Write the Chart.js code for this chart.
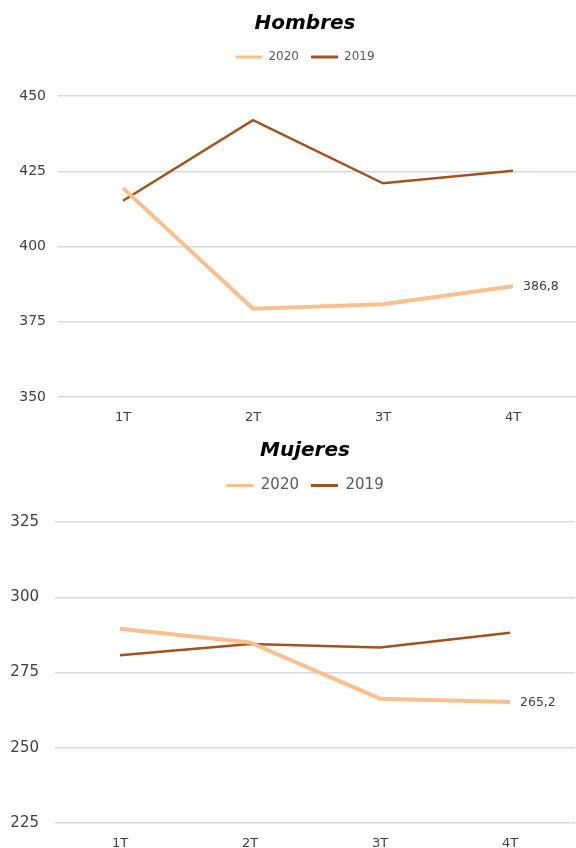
<!DOCTYPE html>
<html>
<head>
<meta charset="utf-8">
<script src="https://cdn.jsdelivr.net/npm/chart.js@4"></script>
<style>
  html, body { margin: 0; padding: 0; background: #fff; overflow: hidden; }
  .box { position: relative; width: 610px; }
  #top-box { height: 432px; }
  #bottom-box { height: 416px; }
</style>
</head>
<body>
<div class="box" id="top-box"><canvas id="hombres-chart"></canvas></div>
<div class="box" id="bottom-box"><canvas id="mujeres-chart"></canvas></div>
<script>
// trimestres
const quarters = ['1T', '2T', '3T', '4T'];
const seriesNames = ['2020', '2019'];

const hombres2020 = [419.4, 379.3, 380.8, 386.8];
const hombres2019 = [415.2, 442.0, 421.0, 425.2];
const hombresTicks = [350, 450, 25];   // min, max, step

const mujeres2020 = [289.5, 285.0, 266.3, 265.2];
const mujeres2019 = [280.7, 284.5, 283.3, 288.2];
const mujeresTicks = [225, 325, 25];

const color2020 = '#F9C08C';
const color2019 = '#A3521B';
const fontName = "'DejaVu Sans', Verdana, sans-serif";

// label for the last 2020 point, e.g. "386,8"
const lastLabel = {
    id: 'lastLabel',
    afterDatasetsDraw(chart) {
        const ctx = chart.ctx;
        const meta = chart.getDatasetMeta(0);
        const i = meta.data.length - 1;
        const pt = meta.data[i];
        const val = chart.data.datasets[0].data[i];
        ctx.save();
        ctx.font = "12.5px " + fontName;
        ctx.fillStyle = '#404040';
        ctx.textAlign = 'left';
        ctx.textBaseline = 'middle';
        ctx.fillText(val.toFixed(1).replace('.', ','), pt.x + 10, pt.y + 1);
        ctx.restore();
    }
};

function legend_items(chart) {
    const items = Chart.defaults.plugins.legend.labels.generateLabels(chart);
    items.forEach(function (it) { it.lineWidth = 0; });
    return items;
}

function make_chart(id, title, d2020, d2019, ticks, sz) {
    const legendExtra = {
        id: 'legendExtra',
        beforeInit(chart) {
            const fit = chart.legend.fit;
            chart.legend.fit = function () {
                fit.bind(chart.legend)();
                this.height += sz.legendGap;
            };
        }
    };
    return new Chart(document.getElementById(id), {
        type: 'line',
        data: {
            labels: quarters,
            datasets: [{
                label: seriesNames[0],
                data: d2020,
                borderColor: color2020,
                backgroundColor: color2020,
                borderWidth: 4,
                pointRadius: 0,
                tension: 0
            }, {
                label: seriesNames[1],
                data: d2019,
                borderColor: color2019,
                backgroundColor: color2019,
                borderWidth: 2.5,
                pointRadius: 0,
                tension: 0
            }]
        },
        options: {
            responsive: true,
            maintainAspectRatio: false,
            animation: false,
            layout: { padding: { left: 0, right: 0, top: sz.padTop, bottom: 0 } },
            plugins: {
                title: {
                    display: true,
                    text: title,
                    color: '#000',
                    font: { family: fontName, size: 20, weight: 'bold', style: 'italic', lineHeight: 1.0 },
                    padding: { top: 0, bottom: 5 }
                },
                legend: {
                    display: true,
                    labels: {
                        color: '#595959',
                        font: { family: fontName, size: sz.legendFont },
                        boxWidth: 27,
                        boxHeight: 3,
                        padding: 12,
                        generateLabels: legend_items
                    }
                },
                tooltip: { enabled: false }
            },
            scales: {
                x: {
                    offset: true,
                    grid: { display: false, drawTicks: false },
                    border: { display: false },
                    ticks: { color: '#404040', font: { family: fontName, size: 13 }, padding: sz.xPad, maxRotation: 0 },
                    afterFit(scale) { scale.height = sz.xHeight; }
                },
                y: {
                    min: ticks[0],
                    max: ticks[1],
                    grid: { color: '#D9D9D9', lineWidth: 1.5, drawTicks: false },
                    border: { display: false },
                    ticks: { stepSize: ticks[2], color: '#404040', font: { family: fontName, size: sz.yFont }, padding: sz.yPad },
                    afterFit(scale) { scale.width = sz.yWidth; }
                },
                // empty space on the right, past the visible page edge
                yRight: {
                    position: 'right',
                    grid: { display: false, drawTicks: false },
                    border: { display: false },
                    ticks: { display: false },
                    afterFit(scale) { scale.width = sz.padRight; }
                }
            }
        },
        plugins: [lastLabel, legendExtra]
    });
}

make_chart('hombres-chart', 'Hombres', hombres2020, hombres2019, hombresTicks,
    { padTop: 14, padRight: 32, legendFont: 12, legendGap: 23, xPad: 13, xHeight: 35, yFont: 14, yPad: 12, yWidth: 58 });
make_chart('mujeres-chart', 'Mujeres', mujeres2020, mujeres2019, mujeresTicks,
    { padTop: 9, padRight: 35, legendFont: 15, legendGap: 19, xPad: 13, xHeight: 25, yFont: 15, yPad: 16, yWidth: 55 });
</script>
</body>
</html>
